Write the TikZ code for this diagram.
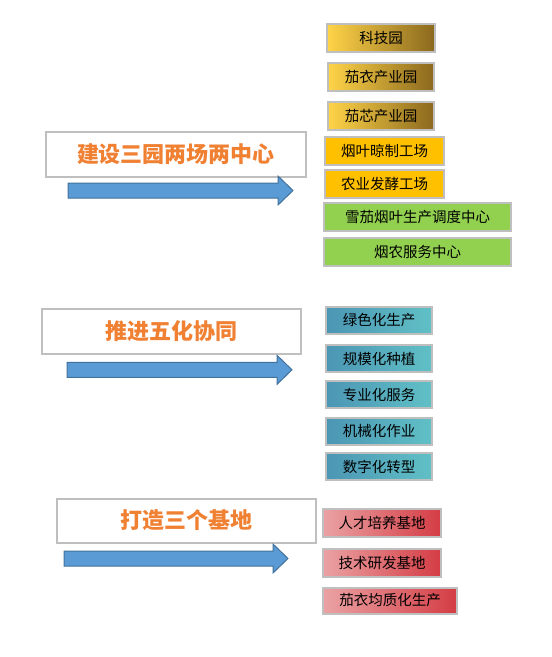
\documentclass[tikz,border=0pt]{standalone}
\usepackage{fontspec}
\setmainfont{Noto Sans CJK SC}
\definecolor{boxgray}{RGB}{191,191,191}
\definecolor{titleorange}{RGB}{240,128,50}
\definecolor{goldA}{RGB}{255,212,72}
\definecolor{goldB}{RGB}{228,178,48}
\definecolor{goldC}{RGB}{138,104,30}
\definecolor{plantorange}{RGB}{255,192,0}
\definecolor{centergreen}{RGB}{146,208,80}
\definecolor{tealA}{RGB}{76,150,180}
\definecolor{tealB}{RGB}{96,192,198}
\definecolor{redA}{RGB}{234,162,164}
\definecolor{redB}{RGB}{212,60,68}
\definecolor{arrowfill}{RGB}{91,155,213}
\definecolor{arrowline}{RGB}{65,113,156}
\begin{document}
\begin{tikzpicture}[x=1pt, y=-1pt,
        titlebox/.style = { shape=rectangle, draw=boxgray, line width=2pt, fill=white, anchor=north west, inner sep=0pt, text=titleorange, font=\fontsize{22}{26}\selectfont\bfseries },
        itembox/.style = { shape=rectangle, draw=boxgray, line width=2pt, anchor=north west, inner sep=0pt, minimum height=28pt, font=\fontsize{14.5}{17}\selectfont },
        goldbox/.style = { itembox, left color=goldA, middle color=goldB, right color=goldC },
        plantbox/.style = { itembox, fill=plantorange },
        centerbox/.style = { itembox, fill=centergreen },
        tealbox/.style = { itembox, minimum width=106pt, minimum height=27pt, left color=tealA, right color=tealB },
        redbox/.style = { itembox, left color=redA, right color=redB },
        blockarrow/.style = { draw=arrowline, line width=1pt, fill=arrowfill }
    ]
    \useasboundingbox (0,0) rectangle (552,657);
    % three headings
    \node (nBuild) [ titlebox, minimum width=260pt, minimum height=45pt ] at (45,131) {建设三园两场两中心};
    \node (nPromote) [ titlebox, minimum width=259pt, minimum height=45pt ] at (41,308) {推进五化协同};
    \node (nCreate) [ titlebox, minimum width=259pt, minimum height=44pt ] at (56,497.5) {打造三个基地};
    % block arrows
    \foreach \xa/\xh/\xt/\yc in {68/278/293/190.5, 67/277/292/369.8, 64/273/288/558.5}
        \draw [ blockarrow ] (\xa,\yc-7.5) -- (\xh,\yc-7.5) -- (\xh,\yc-14.5) -- (\xt,\yc) -- (\xh,\yc+14.5) -- (\xh,\yc+7.5) -- (\xa,\yc+7.5) -- cycle;
    % parks, plants and centres
    \node (nTechPark) [ goldbox, minimum width=108pt ] at (326,23) {科技园};
    \node (nCigarPark) [ goldbox, minimum width=106pt ] at (327,62) {茄衣产业园};
    \node (nFillerPark) [ goldbox, minimum width=106pt ] at (327,101) {茄芯产业园};
    \node (nCuringPlant) [ plantbox, minimum width=119pt ] at (324,136) {烟叶晾制工场};
    \node (nFermentPlant) [ plantbox, minimum width=119pt ] at (324,169) {农业发酵工场};
    \node (nDispatchCenter) [ centerbox, minimum width=187pt ] at (323,202) {雪茄烟叶生产调度中心};
    \node (nServiceCenter) [ centerbox, minimum width=187pt ] at (323,237) {烟农服务中心};
    % five kinds of coordination
    \node (nGreen) [ tealbox ] at (325,306) {绿色化生产};
    \node (nScale) [ tealbox ] at (325,344) {规模化种植};
    \node (nSpecial) [ tealbox ] at (325,380) {专业化服务};
    \node (nMachine) [ tealbox ] at (325,416.5) {机械化作业};
    \node (nDigital) [ tealbox ] at (325,452) {数字化转型};
    % three bases
    \node (nTalentBase) [ redbox, minimum width=118pt ] at (322,508) {人才培养基地};
    \node (nTechBase) [ redbox, minimum width=118pt ] at (322,548) {技术研发基地};
    \node (nUniformBase) [ redbox, minimum width=134pt, minimum height=26pt ] at (322,586.5) {茄衣均质化生产};
\end{tikzpicture}
\end{document}
